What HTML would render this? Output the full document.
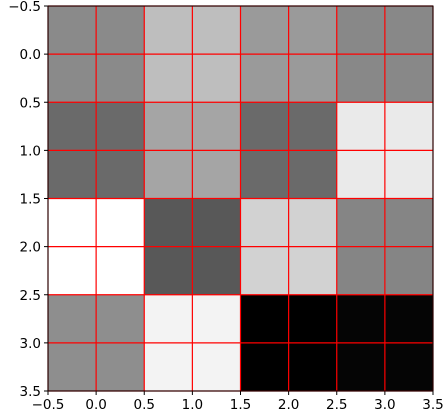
<!DOCTYPE html>
<html><head><meta charset="utf-8"><style>body{margin:0;background:#fff}svg{display:block;font-family:"DejaVu Sans","Liberation Sans",sans-serif}</style></head>
<body>
<svg id="c" width="443" height="418"></svg>
<script>
const rows=[0,1,2,3];
const cols=[0,1,2,3];
const values=[[138,190,154,136],[106,165,106,234],[255,88,210,133],[142,243,0,5]];
const ticks=[-0.5,0,0.5,1,1.5,2,2.5,3,3.5];
const tickLabels=["\u22120.5","0.0","0.5","1.0","1.5","2.0","2.5","3.0","3.5"];
const L=48,T=6,R=433,B=391;
const sx=v=>L+(v+0.5)/4*(R-L), sy=v=>T+(v+0.5)/4*(B-T);
const svg=document.getElementById('c');const NS='http://www.w3.org/2000/svg';
function mk(t,a,p){const e=document.createElementNS(NS,t);for(const k in a)e.setAttribute(k,a[k]);(p||svg).appendChild(e);return e;}
rows.forEach(r=>cols.forEach(c=>{const g=values[r][c];
const e=mk('rect',{x:sx(c-0.5),y:sy(r-0.5),width:sx(c+0.5)-sx(c-0.5),height:sy(r+0.5)-sy(r-0.5),fill:`rgb(${g},${g},${g})`});

}));
ticks.forEach((t,i)=>{
let e=mk('line',{x1:sx(t),x2:sx(t),y1:T,y2:B,stroke:'#f00','stroke-width':1.2});

e=mk('line',{x1:L,x2:R,y1:sy(t),y2:sy(t),stroke:'#f00','stroke-width':1.2});

mk('line',{x1:sx(t),x2:sx(t),y1:B,y2:B+4,stroke:'#000'});
mk('line',{x1:L-4,x2:L,y1:sy(t),y2:sy(t),stroke:'#000'});
e=mk('text',{x:sx(t),y:B+18,'text-anchor':'middle','font-size':13.5});e.textContent=tickLabels[i];

e=mk('text',{x:L-7,y:sy(t)+5,'text-anchor':'end','font-size':13.5});e.textContent=tickLabels[i];

});
const f=mk('rect',{x:L,y:T,width:R-L,height:B-T,fill:'none',stroke:'#000','stroke-width':1});

</script>
</body></html>
